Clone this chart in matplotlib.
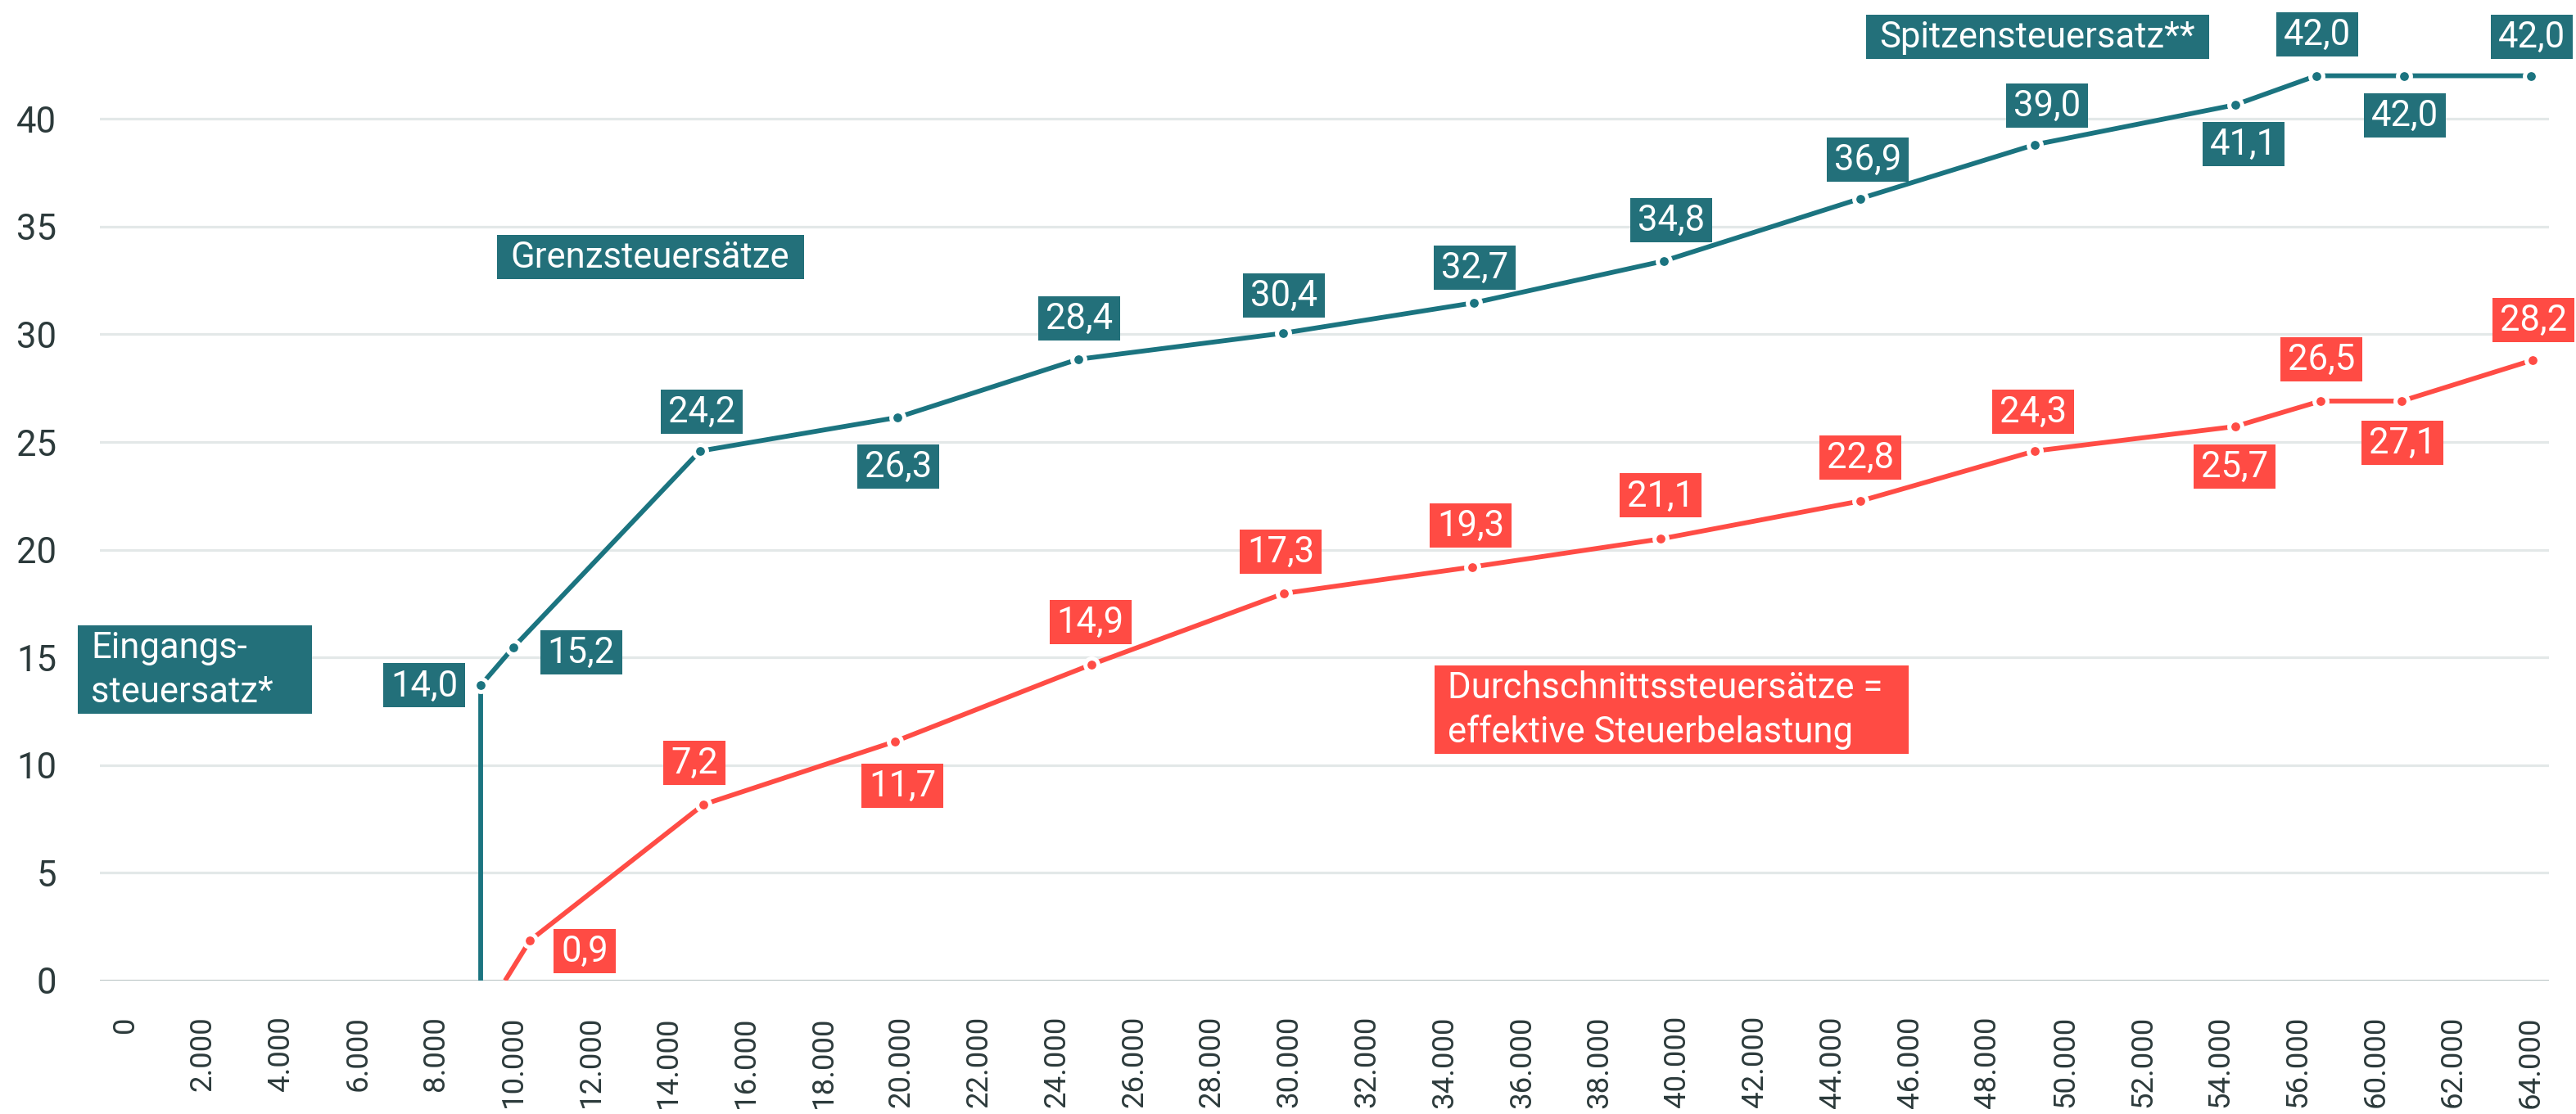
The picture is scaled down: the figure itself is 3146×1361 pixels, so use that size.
import matplotlib
matplotlib.use("Agg")
import matplotlib.pyplot as plt
from matplotlib.patches import Rectangle
from matplotlib.transforms import IdentityTransform

plt.rcParams['font.family'] = ['Roboto', 'DejaVu Sans']

# x: zu versteuerndes Einkommen (Position auf der Achse), y: Steuersatz in %
grenz_x = [9160, 9160, 10000, 14810, 19900, 24560, 29840, 34760, 39650,
           44720, 49210, 54380, 56470, 58730, 62000]
grenz_y = [0, 13.7, 15.46, 24.58, 26.14, 28.84, 30.05, 31.46, 33.40,
           36.30, 38.80, 40.65, 42.0, 42.0, 42.0]
grenz_labels = ['14,0', '15,2', '24,2', '26,3', '28,4', '30,4', '32,7', '34,8',
                '36,9', '39,0', '41,1', '42,0', '42,0', '42,0']

durch_x = [9790, 10430, 14900, 19840, 24900, 29860, 34720, 39570, 44720,
           49210, 54380, 56580, 58670, 62050]
durch_y = [0, 1.86, 8.17, 11.10, 14.67, 17.97, 19.20, 20.50, 22.26,
           24.58, 25.72, 26.90, 26.90, 28.80]
durch_labels = ['0,9', '7,2', '11,7', '14,9', '17,3', '19,3', '21,1', '22,8',
                '24,3', '25,7', '26,5', '27,1', '28,2']

tick_pos = list(range(0, 62001, 2000))
tick_labels = ['0', '2.000', '4.000', '6.000', '8.000', '10.000', '12.000',
               '14.000', '16.000', '18.000', '20.000', '22.000', '24.000',
               '26.000', '28.000', '30.000', '32.000', '34.000', '36.000',
               '38.000', '40.000', '42.000', '44.000', '46.000', '48.000',
               '50.000', '52.000', '54.000', '56.000', '60.000', '62.000',
               '64.000']
y_ticks = [0, 5, 10, 15, 20, 25, 30, 35, 40]

# label box offsets from the point, in pixels (dx, dy up)
grenz_off = [(-69, 0), (83, -6), (2, 48), (1, -60), (1, 50), (1, 46), (1, 43),
             (9, 50), (9, 48), (15, 48), (10, -48), (1, 51), (1, -48), (1, 48)]
durch_off = [(67, -13), (-11, 51), (9, -54), (-1, 52), (-4, 51), (-2, 51),
             (0, 53), (0, 53), (-2, 48), (-1, -49), (1, 51), (1, -51), (1, 49)]

TEAL_LINE = '#1b7480'
TEAL_BOX = '#23707a'
RED_LINE = '#ff4c45'
RED_BOX = '#ff4b44'
TXT = '#2c3a3b'
FS = 15.7

DPI = 200
W, H = 3146, 1361
fig = plt.figure(figsize=(W / DPI, H / DPI), dpi=DPI)
ax = fig.add_axes([122 / W, 1 - 1198 / H, (3113 - 122) / W, (1198 - 13.6) / H])

ax.set_xlim(-654, 62468)
ax.set_ylim(0, 45)
for s in ax.spines.values():
    s.set_visible(False)

for v in y_ticks[1:]:
    ax.axhline(v, color='#e3e8e8', lw=1.15, zorder=1)
ax.axhline(0, color='#b7c3c3', lw=1.1, zorder=2)

for xs, ys, col in [(grenz_x, grenz_y, TEAL_LINE), (durch_x, durch_y, RED_LINE)]:
    ax.plot(xs, ys, color=col, lw=2.1, zorder=3, solid_capstyle='butt',
            marker='o', ms=5.7, mfc=col, mec='white', mew=1.8,
            markevery=list(range(1, len(xs))))

ax.set_yticks(y_ticks)
ax.set_yticklabels([str(v) for v in y_ticks])
ax.set_xticks(tick_pos)
ax.set_xticklabels(tick_labels, rotation=90)
ax.tick_params(axis='y', length=0, pad=19, labelsize=FS, labelcolor=TXT)
ax.tick_params(axis='x', length=0, pad=15.5, labelsize=13.2, labelcolor=TXT)

ident = IdentityTransform()
items = []
for xs, ys, labs, offs, col in [(grenz_x, grenz_y, grenz_labels, grenz_off, TEAL_BOX),
                                (durch_x, durch_y, durch_labels, durch_off, RED_BOX)]:
    for x, y, s, (dx, dy) in zip(xs[1:], ys[1:], labs, offs):
        X, Y = ax.transData.transform((x, y))
        cx, cy = X + dx, Y + dy
        t = fig.text(cx, cy - 13, s, transform=ident, ha='center', va='baseline',
                     color='white', fontsize=FS, zorder=6)
        items.append((t, cx, cy, col))

# text boxes: text, left x, top y (data), box width px, colour
notes = [("Eingangs-\nsteuersatz*", -1224, 16.49, 286, TEAL_BOX),
         ("Grenzsteuersätze", 9581, 34.61, 375, TEAL_BOX),
         ("Spitzensteuersatz**", 44867, 44.83, 419, TEAL_BOX),
         ("Durchschnittssteuersätze =\neffektive Steuerbelastung", 33745, 14.63, 579, RED_BOX)]
for s, x0, ytop, bw, col in notes:
    X, Y = ax.transData.transform((x0, ytop))
    lines = s.split('\n')
    fig.add_artist(Rectangle((X, Y - 54 * len(lines)), bw, 54 * len(lines),
                             transform=ident, facecolor=col, edgecolor='none', zorder=5))
    for k, line in enumerate(lines):
        fig.text(X + 16, Y - 40 - 54 * k, line, transform=ident, ha='left',
                 va='baseline', color='white', fontsize=FS, zorder=6)

fig.canvas.draw()
r = fig.canvas.get_renderer()
for t, cx, cy, col in items:
    w = t.get_window_extent(r).width + 18
    fig.add_artist(Rectangle((cx - w / 2, cy - 27), w, 54, transform=ident,
                             facecolor=col, edgecolor='none', zorder=5))

fig.savefig('out.png', dpi=DPI)
